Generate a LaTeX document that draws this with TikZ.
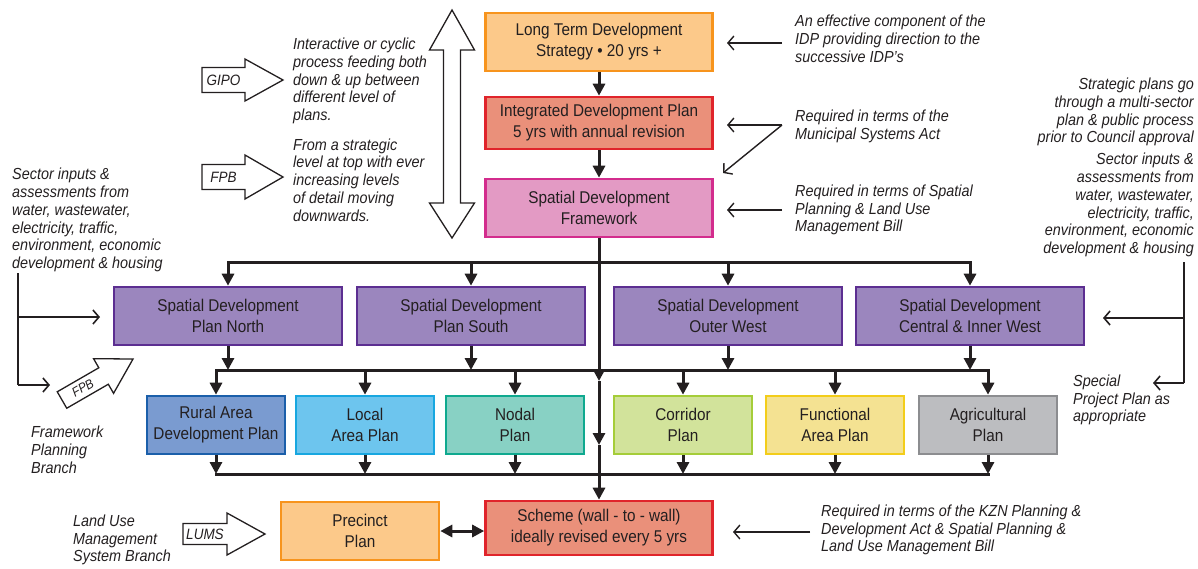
\documentclass[tikz,border=0pt]{standalone}
\usepackage{fontspec}
\setmainfont{Liberation Sans}[FakeStretch=0.9]
\usetikzlibrary{arrows.meta}
\definecolor{ink}{HTML}{231F20}
\definecolor{orfill}{HTML}{FCC98A}\definecolor{ordraw}{HTML}{F7941D}
\definecolor{rdfill}{HTML}{EA907A}\definecolor{rddraw}{HTML}{E0242B}
\definecolor{pkfill}{HTML}{E39AC4}\definecolor{pkdraw}{HTML}{D32C8D}
\definecolor{pufill}{HTML}{9B86BE}\definecolor{pudraw}{HTML}{5C2E91}
\definecolor{blfill}{HTML}{7A9BD0}\definecolor{bldraw}{HTML}{1B5FAA}
\definecolor{cyfill}{HTML}{6DC5EE}\definecolor{cydraw}{HTML}{18A7E0}
\definecolor{tefill}{HTML}{88D1C4}\definecolor{tedraw}{HTML}{0FA98F}
\definecolor{grfill}{HTML}{D2E39B}\definecolor{grdraw}{HTML}{A5CD39}
\definecolor{yefill}{HTML}{F4E292}\definecolor{yedraw}{HTML}{F3CD1A}
\definecolor{gyfill}{HTML}{BCBDC0}\definecolor{gydraw}{HTML}{8C8D90}
\tikzset{
  box/.style={draw, line width=2.6pt, text=ink, align=center, inner sep=0pt,
    font=\fontsize{17}{21}\selectfont},
  bigbox/.style={box, minimum width=227pt},
  midbox/.style={box, minimum width=228pt, minimum height=58pt, fill=pufill, draw=pudraw},
  smallbox/.style={box, minimum width=138pt, minimum height=58pt},
  ann/.style={font=\fontsize{16}{17.8}\selectfont\itshape, text=ink, inner sep=0pt, align=left},
  annr/.style={ann, align=right},
  arrlabel/.style={font=\fontsize{15}{15}\selectfont\itshape, text=ink, inner sep=0pt},
  conn/.style={draw=ink, line width=3pt},
  arr/.style={conn, -{Triangle[length=12pt,width=12pt]}},
  biarr/.style={conn, {Triangle[length=12pt,width=12pt]}-{Triangle[length=12pt,width=12pt]}},
  thinarr/.style={draw=ink, line width=1.4pt, -{Straight Barb[length=6pt,width=14pt]}},
  hollow/.style={draw=ink, line width=1.3pt, fill=white, line join=miter},
}
\newcommand{\holarrow}[9]{%
  \begin{scope}[shift={(#1,#2)},rotate=#3]
    \draw[hollow] (0,-#6) -- (#5,-#6) -- (#5,-#7) -- (#4,0) -- (#5,#7) -- (#5,#6) -- (0,#6) -- cycle;
    \node[arrlabel, rotate=#3] (#9) at (#5/2,0) {#8};
  \end{scope}}
\begin{document}
\begin{tikzpicture}[x=1pt,y=-1pt]
\useasboundingbox (0,0) rectangle (1198,568);

% ---------- main boxes ----------
\node[bigbox, minimum height=58pt, fill=orfill, draw=ordraw] (ltds) at (599,42) {Long Term Development\\Strategy • 20 yrs +};
\node[bigbox, minimum height=52pt, fill=rdfill, draw=rddraw] (idp) at (599,123) {Integrated Development Plan\\5 yrs with annual revision};
\node[bigbox, minimum height=58pt, fill=pkfill, draw=pkdraw] (sdf) at (599,208) {Spatial Development\\Framework};

\node[midbox] (north) at (228,316) {Spatial Development\\Plan North};
\node[midbox] (south) at (471,316) {Spatial Development\\Plan South};
\node[midbox] (ow) at (728,316) {Spatial Development\\Outer West};
\node[midbox] (ciw) at (970,316) {Spatial Development\\Central \& Inner West};

\node[smallbox, fill=blfill, draw=bldraw] (rural) at (216,425) {Rural Area\\Development Plan};
\node[smallbox, fill=cyfill, draw=cydraw] (local) at (365,425) {Local\\Area Plan};
\node[smallbox, fill=tefill, draw=tedraw] (nodal) at (515,425) {Nodal\\Plan};
\node[smallbox, fill=grfill, draw=grdraw] (corr) at (683,425) {Corridor\\Plan};
\node[smallbox, fill=yefill, draw=yedraw] (func) at (835,425) {Functional\\Area Plan};
\node[smallbox, fill=gyfill, draw=gydraw] (agri) at (988,425) {Agricultural\\Plan};

\node[box, minimum width=158pt, minimum height=58pt, fill=orfill, draw=ordraw] (prec) at (360,531) {Precinct\\Plan};
\node[bigbox, minimum height=54pt, fill=rdfill, draw=rddraw] (scheme) at (599,528) {Scheme (wall - to - wall)\\ideally revised every 5 yrs};

% ---------- connectors ----------
\draw[arr] (ltds) -- (idp);
\draw[arr] (idp) -- (sdf);
\coordinate (bar1) at (599,262);
\coordinate (bar2) at (599,370);
\coordinate (bar3) at (599,474);
\coordinate (sp1) at (599,381);
\coordinate (sp2) at (599,445);
\draw[arr] (sdf.south) -- (sp1);
\draw[arr] (sp1) -- (sp2);
\draw[arr] (sp2) -- (scheme.north);

\draw[conn, line cap=rect] (north.north |- bar1) -- (ciw.north |- bar1);
\foreach \n in {north,south,ow,ciw} {\draw[arr] (\n.north |- bar1) -- (\n.north);}
\draw[conn, line cap=rect] (rural.north |- bar2) -- (agri.north |- bar2);
\foreach \n in {north,south,ow,ciw} {\draw[arr] (\n.south) -- (\n.south |- bar2);}
\foreach \n in {rural,local,nodal,corr,func,agri} {\draw[arr] (\n.north |- bar2) -- (\n.north);}
\draw[conn, line cap=rect] (rural.south |- bar3) -- (agri.south |- bar3);
\foreach \n in {rural,local,nodal,corr,func,agri} {\draw[arr] (\n.south) -- (\n.south |- bar3);}
\draw[biarr] (prec.east) -- (prec.east -| scheme.west);

% ---------- annotation arrows ----------
\coordinate (a1) at (782,43);  \coordinate (a1t) at (727,43);
\coordinate (a2) at (782,125); \coordinate (a2t) at (727,125); \coordinate (a2d) at (723,173);
\coordinate (a3) at (782,210); \coordinate (a3t) at (727,210);
\coordinate (a4) at (810,532); \coordinate (a4t) at (733,532);
\draw[thinarr] (a1) -- (a1t);
\draw[thinarr] (a2) -- (a2t);
\draw[thinarr] (a2) -- (a2d);
\draw[thinarr] (a3) -- (a3t);
\draw[thinarr] (a4) -- (a4t);

\coordinate (lt) at (18,273); \coordinate (lm) at (18,317); \coordinate (lb) at (18,385);
\coordinate (lmt) at (100,317); \coordinate (lbt) at (50,385);
\draw[draw=ink, line width=1.6pt] (lt) -- (lb);
\draw[thinarr, line width=1.6pt] (lm) -- (lmt);
\draw[thinarr, line width=1.6pt] (lb) -- (lbt);

\coordinate (rt) at (1184,262); \coordinate (rm) at (1184,318); \coordinate (rb) at (1184,383);
\coordinate (rmt) at (1103,318); \coordinate (rbt) at (1153,383);
\draw[draw=ink, line width=1.6pt] (rt) -- (rb);
\draw[thinarr, line width=1.6pt] (rm) -- (rmt);
\draw[thinarr, line width=1.6pt] (rb) -- (rbt);

% ---------- hollow arrows ----------
\holarrow{202}{80}{0}{81}{43}{12.5}{21}{GIPO}{gipo}
\holarrow{202}{177}{0}{81}{43}{12.5}{22}{FPB}{fpba}
\holarrow{183}{534}{0}{82}{44}{10.5}{21}{LUMS}{lums}
\begin{scope}[shift={(62,400)},rotate=30]
  \draw[hollow] (0,-9.5) -- (48,-9.5) -- (48,-20) -- (82,0) -- (48,20) -- (48,9.5) -- (0,9.5) -- cycle;
  \node[arrlabel, font=\fontsize{13}{13}\selectfont\itshape, rotate=30] (fpbb) at (24,0) {FPB};
\end{scope}
\draw[hollow] (452,10) -- (474.5,50) -- (460.5,50) -- (460.5,203) -- (474.5,203) -- (452,238)
  -- (429.5,203) -- (443.5,203) -- (443.5,50) -- (429.5,50) -- cycle;

% ---------- annotation texts ----------
\node[ann, anchor=west] (t1) at (293,81) {Interactive or cyclic\\process feeding both\\down \& up between\\different level of\\plans.};
\node[ann, anchor=west] (t2) at (293,180) {From a strategic\\level at top with ever\\increasing levels\\of detail moving\\downwards.};
\node[ann, anchor=west] (t3) at (795,39) {An effective component of the\\IDP providing direction to the\\successive IDP’s};
\node[ann, anchor=west] (t4) at (795,126) {Required in terms of the\\Municipal Systems Act};
\node[ann, anchor=west] (t5) at (795,210) {Required in terms of Spatial\\Planning \& Land Use\\Management Bill};
\node[annr, anchor=east] (t6) at (1194,112) {Strategic plans go\\through a multi-sector\\plan \& public process\\prior to Council approval};
\node[annr, anchor=east] (t7) at (1194,205) {Sector inputs \&\\assessments from\\water, wastewater,\\electricity, traffic,\\environment, economic\\development \& housing};
\node[ann, anchor=west] (t8) at (12,220) {Sector inputs \&\\assessments from\\water, wastewater,\\electricity, traffic,\\environment, economic\\development \& housing};
\node[ann, anchor=west] (t9) at (1073,400) {Special\\Project Plan as\\appropriate};
\node[ann, anchor=west] (t10) at (31,450) {Framework\\Planning\\Branch};
\node[ann, anchor=west] (t11) at (73,540) {Land Use\\Management\\System Branch};
\node[ann, anchor=west] (t12) at (821,530) {Required in terms of the KZN Planning \&\\Development Act \& Spatial Planning \&\\Land Use Management Bill};
\end{tikzpicture}
\end{document}
